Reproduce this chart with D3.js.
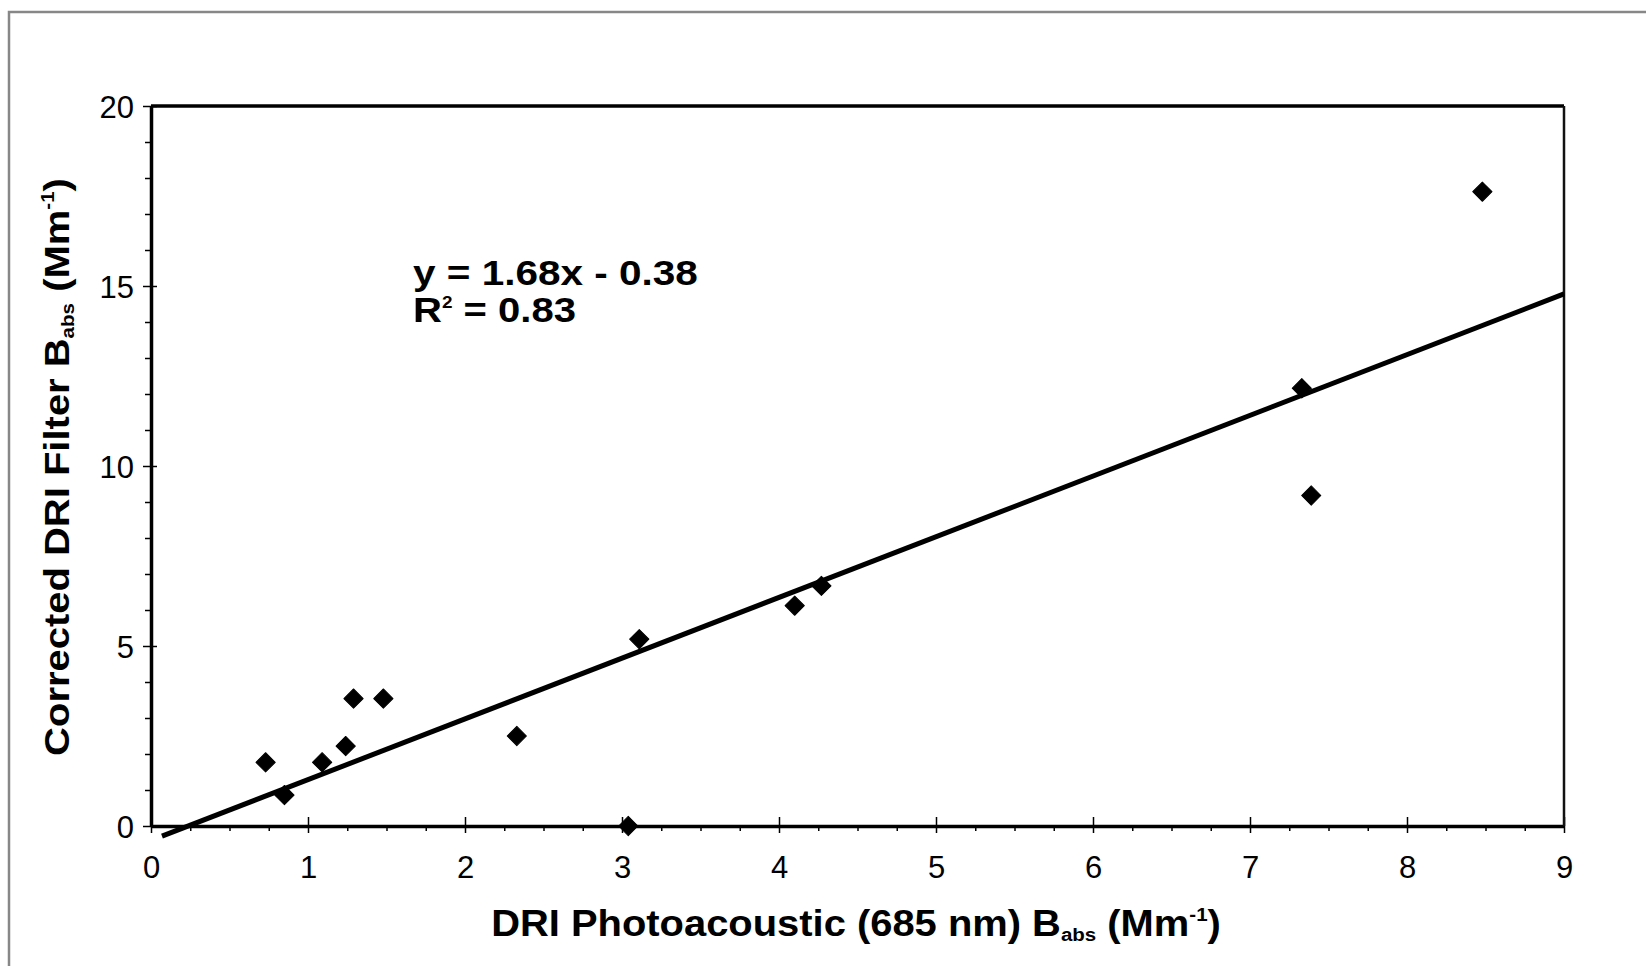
<!DOCTYPE html>
<html>
<head>
<meta charset="utf-8">
<script src="https://cdn.jsdelivr.net/npm/d3@7"></script>
<style>
  body { margin: 0; background: #fff; }
  text { font-family: "Liberation Sans", Arial, sans-serif; fill: #000; }
</style>
</head>
<body>
<svg id="chart" width="1646" height="966"></svg>
<script>
// Photoacoustic (x) vs corrected filter (y) absorption, Mm-1
const photoacoustic = [0.73, 0.85, 1.09, 1.24, 1.29, 1.48, 2.33, 3.04, 3.11, 4.10, 4.27, 7.33, 7.39, 8.48];
const filterBabs    = [1.77, 0.86, 1.77, 2.22, 3.54, 3.54, 2.50, 0.00, 5.19, 6.12, 6.67, 12.16, 9.18, 17.62];

// linear trendline end points as drawn
const trendX = [0.07, 9];
const trendY = [-0.28, 14.78];

const xTicks = [0, 1, 2, 3, 4, 5, 6, 7, 8, 9];
const yTicks = [0, 5, 10, 15, 20];
const equationLines = ["y = 1.68x - 0.38", "R", " = 0.83"];

// basic layout
const svg = d3.select("#chart");
const margin = {top: 106, right: 82, bottom: 140, left: 151};
const width = +svg.attr("width") - margin.left - margin.right;
const height = +svg.attr("height") - margin.top - margin.bottom;

// outer grey frame (only top/left visible)
svg.append("rect")
   .attr("x", 9).attr("y", 12)
   .attr("width", 1700).attr("height", 1000)
   .attr("fill", "none")
   .attr("stroke", "#878787")
   .attr("stroke-width", 2.5);

const g = svg.append("g").attr("transform", `translate(${margin.left},${margin.top})`);

const x = d3.scaleLinear().domain([0, 9]).range([0, width]);
const y = d3.scaleLinear().domain([0, 20]).range([height, 0]);

// minor ticks first
g.append("g")
 .attr("transform", `translate(0,${height})`)
 .call(d3.axisBottom(x).tickValues(d3.range(0, 9.01, 0.25).filter(v => v % 1 !== 0)).tickSize(5).tickFormat(""))
 .call(a => a.select(".domain").remove())
 .call(a => a.selectAll("line").attr("stroke-width", 1.5));

g.append("g")
 .call(d3.axisLeft(y).tickValues(d3.range(1, 20).filter(v => v % 5 !== 0)).tickSize(6).tickFormat(""))
 .call(a => a.select(".domain").remove())
 .call(a => a.selectAll("line").attr("stroke-width", 1.5));

// major x axis
g.append("g")
 .attr("transform", `translate(0,${height})`)
 .call(d3.axisBottom(x).tickValues(xTicks).tickSize(7).tickPadding(23).tickSizeOuter(0).tickFormat(d3.format("d")))
 .call(a => a.select(".domain").attr("stroke-width", 3.5))
 .call(a => a.selectAll(".tick line").attr("y1", -9).attr("stroke-width", 1.5))
 .call(a => a.selectAll("text").style("font-size", "31px").attr("fill", "#000"));

// major y axis
g.append("g")
 .call(d3.axisLeft(y).tickValues(yTicks).tickSize(8).tickPadding(9).tickSizeOuter(0))
 .call(a => a.select(".domain").attr("stroke-width", 3.5))
 .call(a => a.selectAll(".tick line").attr("x1", 6).attr("stroke-width", 1.5))
 .call(a => a.selectAll("text").style("font-size", "31px").attr("dy", "0.36em").attr("fill", "#000"));

// top and right frame of the plot
g.append("line").attr("x1", 0).attr("x2", width).attr("y1", 0).attr("y2", 0)
 .attr("stroke", "#000").attr("stroke-width", 3.5);
g.append("line").attr("x1", width).attr("x2", width).attr("y1", 0).attr("y2", height)
 .attr("stroke", "#111").attr("stroke-width", 2.5);

// trendline
g.append("line")
 .attr("x1", x(trendX[0])).attr("y1", y(trendY[0]))
 .attr("x2", x(trendX[1])).attr("y2", y(trendY[1]))
 .attr("stroke", "#000")
 .attr("stroke-width", 5);

// diamonds
const points = photoacoustic.map((v, i) => ({x: v, y: filterBabs[i]}));
g.selectAll("path.pt")
 .data(points)
 .enter()
 .append("path")
 .attr("class", "pt")
 .attr("d", d3.symbol(d3.symbolSquare, 185))
 .attr("transform", d => `translate(${x(d.x)},${y(d.y)}) rotate(45)`)
 .attr("fill", "#000")
 .attr("stroke", "#000")
 .attr("stroke-width", 1)
 .attr("stroke-linejoin", "round");

// squeeze/stretch a text node horizontally to a target width around x0
function fitWidth(sel, target, x0) {
  const w = sel.node().getBBox().width;
  const s = target / w;
  sel.attr("transform", `translate(${x0},0) scale(${s},1) translate(${-x0},0)`);
}

// regression equation
const eq1 = svg.append("text")
  .attr("x", 413).attr("y", 285)
  .style("font-size", "36px").style("font-weight", "bold")
  .text(equationLines[0]);
fitWidth(eq1, 285, 413);

const eq2 = svg.append("text")
  .attr("x", 413).attr("y", 322)
  .style("font-size", "36px").style("font-weight", "bold");
eq2.append("tspan").text(equationLines[1]);
eq2.append("tspan").attr("dy", -14).style("font-size", "17px").text("2");
eq2.append("tspan").attr("dy", 14).text(equationLines[2]);
fitWidth(eq2, 163, 413);

// x axis title
const xt = svg.append("text")
  .attr("x", 856).attr("y", 936)
  .attr("text-anchor", "middle")
  .style("font-size", "37px").style("font-weight", "bold");
xt.append("tspan").text("DRI Photoacoustic (685 nm) B");
xt.append("tspan").attr("dy", 5).style("font-size", "19px").text("abs");
xt.append("tspan").attr("dy", -5).text(" (Mm");
xt.append("tspan").attr("dy", -15).style("font-size", "19px").text("-1");
xt.append("tspan").attr("dy", 15).text(")");
fitWidth(xt, 730, 856);

// y axis title
const yg = svg.append("g").attr("transform", "translate(69,467) rotate(-90)");
const yt = yg.append("text")
  .attr("x", 0).attr("y", 0)
  .attr("text-anchor", "middle")
  .style("font-size", "35px").style("font-weight", "bold");
yt.append("tspan").text("Corrected DRI Filter B");
yt.append("tspan").attr("dy", 5).style("font-size", "18px").text("abs");
yt.append("tspan").attr("dy", -5).text(" (Mm");
yt.append("tspan").attr("dy", -15).style("font-size", "18px").text("-1");
yt.append("tspan").attr("dy", 15).text(")");
fitWidth(yt, 578, 0);
</script>
</body>
</html>
